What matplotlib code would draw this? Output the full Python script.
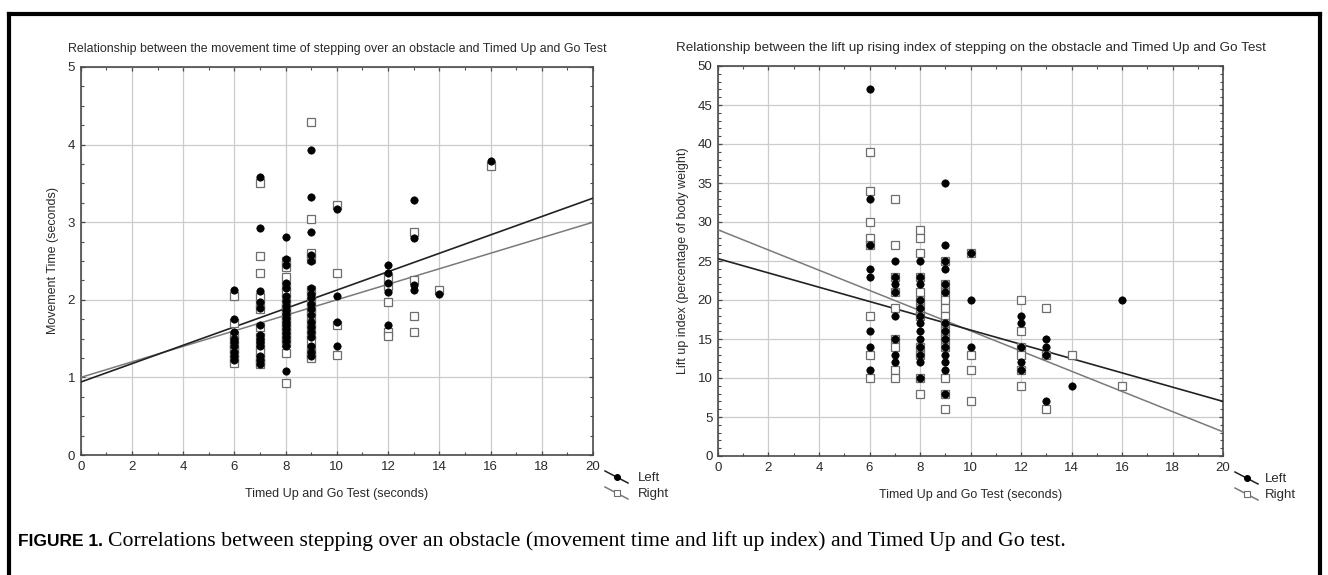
import numpy as np
import matplotlib
matplotlib.use("Agg")
import matplotlib.pyplot as plt
from matplotlib.lines import Line2D
from matplotlib.ticker import MultipleLocator

plt.rcParams['font.family'] = ['Liberation Sans', 'DejaVu Sans']

# ---------------- data: movement time (left panel) ----------------
mt_left_tug = [6, 6, 6, 6, 6, 6, 6, 6, 6,
               7, 7, 7, 7, 7, 7, 7, 7, 7, 7, 7, 7, 7,
               8, 8, 8, 8, 8, 8, 8, 8, 8, 8, 8, 8, 8, 8, 8, 8, 8, 8, 8,
               9, 9, 9, 9, 9, 9, 9, 9, 9, 9, 9, 9, 9, 9, 9, 9, 9, 9,
               10, 10, 10, 10,
               12, 12, 12, 12, 12,
               13, 13, 13, 13,
               14, 16]
mt_left_val = [2.13, 1.75, 1.58, 1.50, 1.45, 1.40, 1.33, 1.28, 1.22,
               3.58, 2.92, 2.11, 1.97, 1.90, 1.67, 1.55, 1.50, 1.45, 1.40, 1.28, 1.22, 1.17,
               2.81, 2.53, 2.45, 2.22, 2.15, 2.05, 1.98, 1.92, 1.87, 1.82, 1.77, 1.72, 1.67,
               1.62, 1.57, 1.52, 1.47, 1.40, 1.08,
               3.93, 3.33, 2.88, 2.58, 2.50, 2.15, 2.08, 2.02, 1.95, 1.88, 1.80, 1.72, 1.65,
               1.58, 1.52, 1.40, 1.33, 1.27,
               3.17, 2.05, 1.71, 1.41,
               2.45, 2.35, 2.22, 2.10, 1.68,
               3.29, 2.80, 2.19, 2.13,
               2.07, 3.79]

mt_right_tug = mt_left_tug
mt_right_val = [2.05, 1.70, 1.55, 1.48, 1.42, 1.36, 1.30, 1.25, 1.18,
                3.51, 2.56, 2.35, 2.04, 1.95, 1.88, 1.65, 1.52, 1.40, 1.33, 1.25, 1.20, 1.17,
                2.50, 2.42, 2.30, 2.18, 2.10, 2.02, 1.95, 1.90, 1.85, 1.80, 1.75, 1.70, 1.65,
                1.60, 1.55, 1.50, 1.44, 1.32, 0.93,
                4.29, 3.04, 2.60, 2.53, 2.12, 2.05, 1.98, 1.90, 1.85, 1.78, 1.70, 1.63, 1.55,
                1.48, 1.38, 1.32, 1.27, 1.25,
                3.22, 2.34, 1.68, 1.29,
                2.28, 2.18, 1.97, 1.58, 1.53,
                2.88, 2.26, 1.79, 1.59,
                2.13, 3.72]

# regression lines: [intercept, slope]
mt_fit_left = [0.94, 0.1185]
mt_fit_right = [1.00, 0.100]

# ---------------- data: lift up index (right panel) ----------------
li_left_tug = [6, 6, 6, 6, 6, 6, 6, 6,
               7, 7, 7, 7, 7, 7, 7, 7,
               8, 8, 8, 8, 8, 8, 8, 8, 8, 8, 8, 8, 8,
               9, 9, 9, 9, 9, 9, 9, 9, 9, 9, 9, 9, 9, 9,
               10, 10, 10,
               12, 12, 12, 12, 12,
               13, 13, 13, 13,
               14, 16]
li_left_val = [47, 33, 27, 24, 23, 16, 14, 11,
               25, 23, 22, 21, 18, 15, 13, 12,
               25, 23, 22, 20, 19, 18, 17, 16, 15, 14, 13, 12, 10,
               35, 27, 25, 24, 22, 21, 17, 16, 15, 14, 13, 12, 11, 8,
               26, 20, 14,
               18, 17, 14, 12, 11,
               15, 14, 13, 7,
               9, 20]

li_right_tug = [6, 6, 6, 6, 6, 6, 6, 6,
                7, 7, 7, 7, 7, 7, 7, 7, 7,
                8, 8, 8, 8, 8, 8, 8, 8, 8, 8, 8, 8,
                9, 9, 9, 9, 9, 9, 9, 9, 9, 9, 9, 9, 9,
                10, 10, 10, 10,
                12, 12, 12, 12, 12, 12,
                13, 13, 13,
                14, 16]
li_right_val = [39, 34, 30, 28, 27, 18, 13, 10,
                33, 27, 23, 21, 19, 15, 14, 11, 10,
                29, 28, 26, 23, 21, 20, 19, 18, 14, 13, 10, 8,
                25, 22, 21, 20, 19, 18, 17, 16, 15, 14, 10, 8, 6,
                26, 13, 11, 7,
                20, 16, 14, 13, 11, 9,
                19, 13, 6,
                13, 9]

li_fit_left = [25.3, -0.915]
li_fit_right = [29.0, -1.295]

titles = ["Relationship between the movement time of stepping over an obstacle and Timed Up and Go Test",
          "Relationship between the lift up rising index of stepping on the obstacle and Timed Up and Go Test"]
ylabels = ["Movement Time (seconds)", "Lift up index (percentage of body weight)"]
xlabel = "Timed Up and Go Test (seconds)"
legend_labels = ["Left", "Right"]
caption_bold = "FIGURE 1."
caption_text = "Correlations between stepping over an obstacle (movement time and lift up index) and Timed Up and Go test."

# ---------------- figure ----------------
W, H = 1328, 575
fig = plt.figure(figsize=(W / 100, H / 100), dpi=100)

ax1 = fig.add_axes([80.7 / W, 1 - 455 / H, (593 - 80.7) / W, (455 - 67) / H])
ax2 = fig.add_axes([718 / W, 1 - 456 / H, (1223 - 718) / W, (456 - 66) / H])

spine_col = '#4a4a4a'
grid_col = '#cccccc'
txt_col = '#2a2a2a'
dark_line = '#222222'
gray_line = '#7a7a7a'
sq_edge = '#6e6e6e'


def style(ax, ymax, ymajor, yminor):
    ax.set_xlim(0, 20)
    ax.set_ylim(0, ymax)
    ax.xaxis.set_major_locator(MultipleLocator(2))
    ax.xaxis.set_minor_locator(MultipleLocator(1))
    ax.yaxis.set_major_locator(MultipleLocator(ymajor))
    ax.yaxis.set_minor_locator(MultipleLocator(yminor))
    ax.grid(True, which='major', color=grid_col, linewidth=0.9, zorder=0)
    ax.set_axisbelow(True)
    for s in ax.spines.values():
        s.set_color(spine_col)
        s.set_linewidth(1.2)
    ax.tick_params(which='both', direction='in', top=True, right=True,
                   color=spine_col, labelsize=9.5, labelcolor=txt_col, pad=4)
    ax.tick_params(which='major', length=3, width=0.9)
    ax.tick_params(which='minor', length=2, width=0.8)


def panel(ax, lt, lv, rt, rv, fl, fr, title, ylabel, tsize):
    xs = np.array(ax.get_xlim())
    ax.plot(xs, fr[0] + fr[1] * xs, color=gray_line, lw=1.1, zorder=3)
    ax.plot(xs, fl[0] + fl[1] * xs, color=dark_line, lw=1.2, zorder=3)
    ax.plot(rt, rv, ls='none', marker='s', ms=5.8, mfc='white', mec=sq_edge, mew=0.9, zorder=4)
    ax.plot(lt, lv, ls='none', marker='o', ms=5.3, mfc='black', mec='black', mew=0.5, zorder=5)
    ax.set_title(title, fontsize=tsize, color=txt_col, pad=11)
    ax.set_ylabel(ylabel, fontsize=9, color=txt_col, labelpad=6)
    ax.set_xlabel(xlabel, fontsize=9, color=txt_col, labelpad=11)


style(ax1, 5, 1, 0.25)
style(ax2, 50, 5, 1)
panel(ax1, mt_left_tug, mt_left_val, mt_right_tug, mt_right_val, mt_fit_left, mt_fit_right,
      titles[0], ylabels[0], 8.9)
panel(ax2, li_left_tug, li_left_val, li_right_tug, li_right_val, li_fit_left, li_fit_right,
      titles[1], ylabels[1], 9.7)


# custom legends below-right of each panel
def legend(ax, tx):
    pos = ax.get_position()
    x0 = pos.x1 * W
    y0 = (1 - pos.y0) * H  # pixel from top

    def P(dx, dy):
        return (x0 + dx) / W, 1 - (y0 + dy) / H

    specs = [(dark_line, 'o', 'black', 'black', 0, legend_labels[0]),
             (gray_line, 's', 'white', sq_edge, 16, legend_labels[1])]
    for col, mk, mfc, mec, off, lab in specs:
        a = P(12, 16 + off)
        b = P(35, 28 + off)
        fig.add_artist(Line2D([a[0], b[0]], [a[1], b[1]], color=col, lw=1.1))
        m = P(23.5, 22 + off)
        fig.add_artist(Line2D([m[0]], [m[1]], marker=mk, ms=4.2, mfc=mfc, mec=mec, mew=0.8, ls='none'))
        t = P(tx, 23 + off)
        fig.text(t[0], t[1], lab, fontsize=9.5, color=txt_col, va='center', ha='left')


legend(ax1, 45)
legend(ax2, 42)

# outer frame (left, top, right)
fw = 3.0
fig.add_artist(Line2D([8.5 / W, 8.5 / W], [0, 1 - 13.5 / H], color='black', lw=fw, solid_capstyle='projecting'))
fig.add_artist(Line2D([8.5 / W, 1320 / W], [1 - 13.5 / H, 1 - 13.5 / H], color='black', lw=fw, solid_capstyle='projecting'))
fig.add_artist(Line2D([1320 / W, 1320 / W], [0, 1 - 13.5 / H], color='black', lw=fw, solid_capstyle='projecting'))

# caption
cy = 1 - 541 / H
t1 = fig.text(18 / W, cy, caption_bold, fontsize=12.5, fontweight='bold',
              family=['Liberation Sans Narrow', 'Liberation Sans'], va='center', ha='left')
fig.canvas.draw()
bb = t1.get_window_extent(renderer=fig.canvas.get_renderer())
fig.text(bb.x1 / W + 5 / W, cy, caption_text, fontsize=15.7,
         family=['Liberation Serif', 'DejaVu Serif'], va='center', ha='left')

fig.savefig('out.png', dpi=100)
